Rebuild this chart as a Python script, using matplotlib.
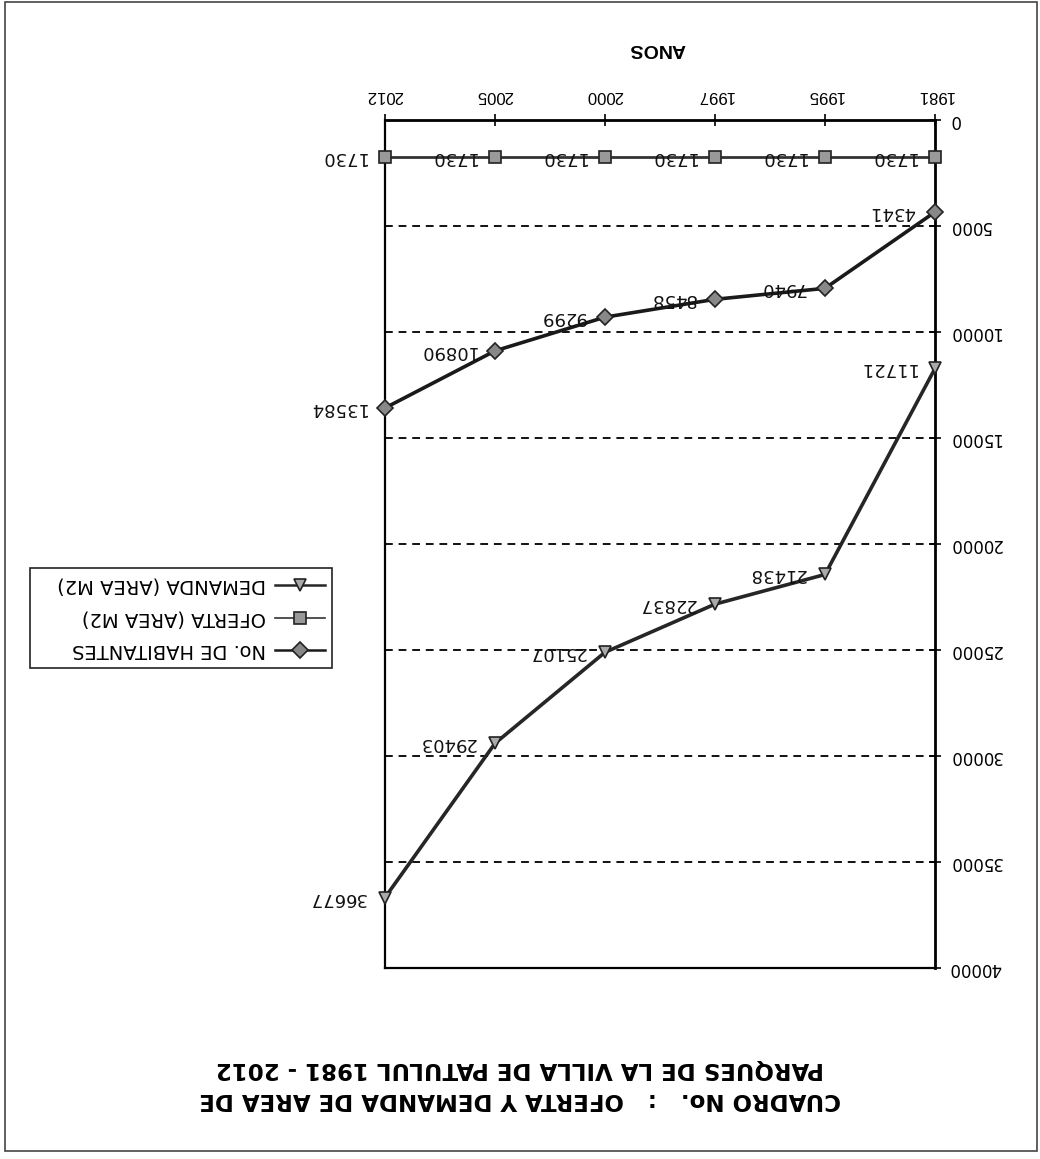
import matplotlib.pyplot as plt
from matplotlib.lines import Line2D
from matplotlib.patches import Rectangle

# data read from the (upside-down) scanned chart
anios = ['1981', '1995', '1997', '2000', '2005', '2012']
habitantes = [4341, 7940, 8458, 9299, 10890, 13584]
oferta = [1730, 1730, 1730, 1730, 1730, 1730]
demanda = [11721, 21438, 22837, 25107, 29403, 36677]
y_ticks = [0, 5000, 10000, 15000, 20000, 25000, 30000, 35000, 40000]

series_names = ['No. DE HABITANTES', 'OFERTA (AREA M2)', 'DEMANDA (AREA M2)']

W, H = 1040, 1159
fig = plt.figure(figsize=(W / 100, H / 100), dpi=100)
plt.rcParams['font.family'] = ['DejaVu Sans']

# plot area (pixel box of the scan)
x0, x1, y0, y1 = 385, 935, 120, 968
ax = fig.add_axes([x0 / W, 1 - y1 / H, (x1 - x0) / W, (y1 - y0) / H])

xs = list(range(len(anios)))

# everything is rotated 180 degrees, so flip both axes
ax.set_xlim(len(anios) - 1, 0)
ax.set_ylim(40000, 0)

styles = [
    (habitantes, 'D', '#1a1a1a', '#888888', 2.6, 8),
    (oferta, 's', '#333333', '#999999', 2.0, 8),
    (demanda, 'v', '#262626', '#aaaaaa', 2.6, 9),
]
for vals, mk, lc, fc, lw, ms in styles:
    ax.plot(xs, vals, color=lc, lw=lw, marker=mk, markersize=ms,
            markerfacecolor=fc, markeredgecolor='#222222', markeredgewidth=1.2,
            zorder=3, clip_on=False)
    for x, v in zip(xs, vals):
        ax.annotate(str(v), (x, v), xytext=(-14, 0), textcoords='offset points',
                    ha='right', va='center', rotation=180, fontsize=13,
                    color='#111111', zorder=4)

# dashed gridlines
for t in y_ticks[1:-1]:
    ax.axhline(t, color='#111111', lw=1.4, ls=(0, (4, 3)), zorder=1)

ax.xaxis.tick_top()
ax.yaxis.tick_right()
ax.set_xticks(xs)
ax.set_xticklabels(anios, rotation=180, fontsize=12, va='bottom',
                   family='Liberation Sans')
ax.set_yticks(y_ticks)
ax.set_yticklabels([str(t) for t in y_ticks], rotation=180, fontsize=12,
                   va='center')
ax.tick_params(axis='x', direction='inout', length=8, width=1.2, pad=8)
ax.tick_params(axis='y', direction='inout', length=8, width=1.2, pad=6)
for side in ['top', 'right']:
    ax.spines[side].set_linewidth(2.0)
for side in ['left', 'bottom']:
    ax.spines[side].set_linewidth(1.6)
ax.set_facecolor('white')

# axis title
fig.text(657 / W, 1 - 48 / H, 'ANOS', rotation=180, ha='center', va='center',
         fontsize=14, fontweight='bold', family='Liberation Sans')

# chart title
fig.text(520 / W, 1 - 1084 / H,
         'CUADRO No.   :   OFERTA Y DEMANDA DE AREA DE\n'
         'PARQUES DE LA VILLA DE PATULUL 1981 - 2012',
         rotation=180, ha='center', va='center', multialignment='center',
         fontsize=16.5, fontweight='bold', linespacing=1.45)

# legend drawn by hand so it can be upside down
lx0, lx1, ly0, ly1 = 30, 332, 568, 668
fig.patches.append(Rectangle((lx0 / W, 1 - ly1 / H), (lx1 - lx0) / W,
                             (ly1 - ly0) / H, transform=fig.transFigure,
                             fill=False, edgecolor='#222222', lw=1.2))
legend_rows = [650, 618, 585]
for name, (vals, mk, lc, fc, lw, ms), ypx in zip(series_names, styles, legend_rows):
    yf = 1 - ypx / H
    fig.add_artist(Line2D([275 / W, 325 / W], [yf, yf], transform=fig.transFigure,
                          color=lc, lw=lw - 0.8))
    fig.add_artist(Line2D([300 / W], [yf], transform=fig.transFigure,
                          marker=mk, markersize=ms, markerfacecolor=fc,
                          markeredgecolor='#222222', markeredgewidth=1.2))
    fig.text(266 / W, yf, name, rotation=180, ha='right', va='center',
             fontsize=14)

# outer frame of the scan
fig.patches.append(Rectangle((5 / W, 1 - 1151 / H), 1032 / W, 1149 / H,
                             transform=fig.transFigure, fill=False,
                             edgecolor='#444444', lw=1.2))

fig.savefig('out.png', dpi=100)
